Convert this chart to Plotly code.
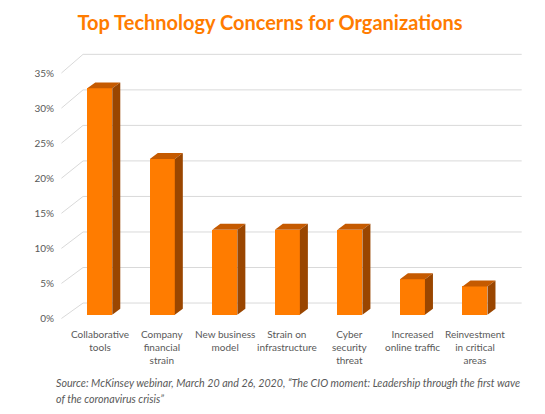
import plotly.graph_objects as go

# ---- data ----
categories = ["Collaborative<br>tools", "Company<br>financial<br>strain", "New business<br>model",
              "Strain on<br>infrastructure", "Cyber<br>security<br>threat",
              "Increased<br>online traffic", "Reinvestment<br>in critical<br>areas"]
values = [32, 22, 12, 12, 12, 5, 4]
tick_values = [0, 5, 10, 15, 20, 25, 30, 35]
tick_labels = ["0%", "5%", "10%", "15%", "20%", "25%", "30%", "35%"]

title = "Top Technology Concerns for Organizations"
source_lines = ["Source: McKinsey webinar, March 20 and 26, 2020, \u201cThe CIO moment: Leadership through the first wave",
                "of the coronavirus crisis\u201d"]

# ---- style / geometry (window pixels) ----
WIN_W, WIN_H = 545, 414
OFF = 8                      # default page body margin
W, H = WIN_W - OFF, WIN_H - OFF
FRONT = "#FF7C00"
TOP = "#C55A00"
SIDE = "#9A4600"
GRID = "#D9D9D9"
TXT = "#595959"
FONT = "Lato"

PX_X = 62.5      # px per category
PX_Y = 7.09      # px per percent (bar plane)
X_ORIGIN_PX = 100.0
Y_ORIGIN_PX = 315.0
X_RANGE = [-0.62, 6.8]
Y_RANGE = [-0.75, 37.0]

def px_to_x(p):
    return (p - X_ORIGIN_PX) / PX_X

def py_to_y(p):
    return (Y_ORIGIN_PX - p) / PX_Y

left_px = X_ORIGIN_PX + X_RANGE[0] * PX_X
right_px = X_ORIGIN_PX + X_RANGE[1] * PX_X
top_px = Y_ORIGIN_PX - Y_RANGE[1] * PX_Y
bottom_px = Y_ORIGIN_PX - Y_RANGE[0] * PX_Y
plot_w = right_px - left_px
plot_h = bottom_px - top_px

def paper_x(p):
    return (p - left_px) / plot_w

def paper_y(p):
    return (bottom_px - p) / plot_h

BAR_W = 0.4
DX = 8 / PX_X
DY = 6 / PX_Y

# back wall and side-wall edge
BACK_L_PX, BACK_R_PX = 83.3, 521.7
BACK0_PX, BACK_SCALE = 303.3, (303.3 - 54.0) / 35
FRONT_L_PX, FRONT0_PX, FRONT_SCALE = 61.7, 318.8, 7.03

fig = go.Figure()

# gridlines as a shape beneath the bars
path = ""
for v in tick_values:
    yb = py_to_y(BACK0_PX - BACK_SCALE * v)
    yf = py_to_y(FRONT0_PX - FRONT_SCALE * v)
    path += "M%.4f,%.4f L%.4f,%.4f L%.4f,%.4f " % (px_to_x(FRONT_L_PX), yf, px_to_x(BACK_L_PX), yb,
                                                   px_to_x(BACK_R_PX), yb)
fig.add_shape(type="path", path=path, xref="x", yref="y", layer="below",
              line=dict(color=GRID, width=1))

# bar front faces
xs = list(range(len(values)))
fig.add_trace(go.Bar(x=xs, y=values, width=BAR_W, marker=dict(color=FRONT, line=dict(width=0)),
                     showlegend=False, hoverinfo="skip"))

# top and side faces
tx, ty = [], []
sx, sy = [], []
for i, v in zip(xs, values):
    l, r = i - BAR_W / 2, i + BAR_W / 2
    tx += [l, r, r + DX, l + DX, l, None]
    ty += [v, v, v + DY, v + DY, v, None]
    sx += [r, r + DX, r + DX, r, r, None]
    sy += [v, v + DY, DY, 0, v, None]
fig.add_trace(go.Scatter(x=tx, y=ty, mode="lines", fill="toself", fillcolor=TOP,
                         line=dict(width=0, color=TOP), hoverinfo="skip", showlegend=False))
fig.add_trace(go.Scatter(x=sx, y=sy, mode="lines", fill="toself", fillcolor=SIDE,
                         line=dict(width=0, color=SIDE), hoverinfo="skip", showlegend=False))

# dummy trace for front-plane tick axis
fig.add_trace(go.Scatter(x=[None], y=[None], yaxis="y2", showlegend=False, hoverinfo="skip"))

annotations = []
for i, c in enumerate(categories):
    annotations.append(dict(x=i, y=paper_y(326), xref="x", yref="paper", text=c, showarrow=False,
                            xanchor="center", yanchor="top",
                            font=dict(family=FONT, size=10, color=TXT)))
for k, line in enumerate(source_lines):
    annotations.append(dict(x=paper_x(54), y=paper_y(383 + 16 * k), xref="paper", yref="paper",
                            text="<i>" + line + "</i>", showarrow=False,
                            xanchor="left", yanchor="middle",
                            font=dict(family=FONT, size=10.7, color=TXT)))

front_lo = (FRONT0_PX - bottom_px) / FRONT_SCALE
front_hi = (FRONT0_PX - top_px) / FRONT_SCALE

fig.update_layout(
    width=W, height=H,
    margin=dict(l=left_px - OFF, r=WIN_W - right_px, t=top_px - OFF, b=WIN_H - bottom_px, pad=0),
    paper_bgcolor="white", plot_bgcolor="white",
    title=dict(text="<b>" + title + "</b>", x=(270 - OFF) / W, xanchor="center",
               y=(WIN_H - 23) / H, yanchor="middle",
               font=dict(family=FONT, size=20, color="#FF7C00")),
    xaxis=dict(range=X_RANGE, showgrid=False, zeroline=False, showticklabels=False,
               showline=False, ticks="", automargin=False),
    yaxis=dict(range=Y_RANGE, showgrid=False, zeroline=False, showticklabels=False,
               showline=False, ticks="", automargin=False),
    yaxis2=dict(range=[front_lo, front_hi], overlaying="y", side="left", showgrid=False,
                zeroline=False, showline=False, tickmode="array", tickvals=tick_values,
                ticktext=tick_labels, ticks="", ticklabelstandoff=6,
                tickfont=dict(family=FONT, size=10, color=TXT), automargin=False),
    annotations=annotations,
    bargap=0,
)

fig.write_html("out.html")
